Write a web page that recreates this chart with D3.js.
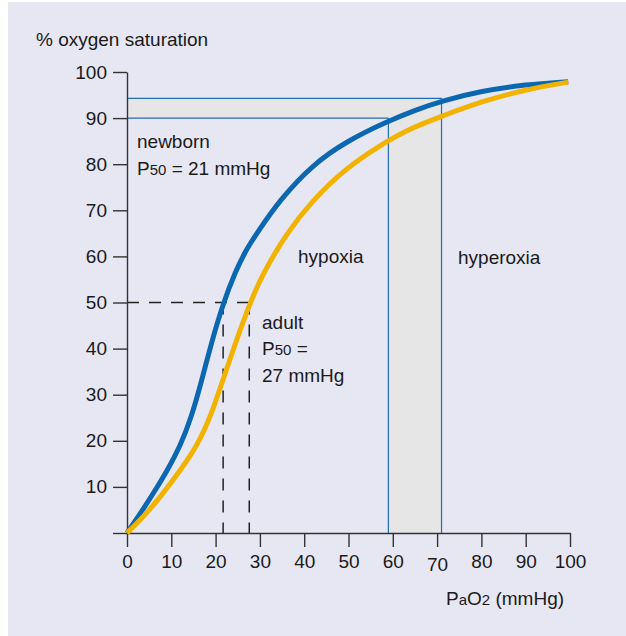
<!DOCTYPE html>
<html>
<head>
<meta charset="utf-8">
<script src="https://cdn.jsdelivr.net/npm/d3@7"></script>
<style>
  html, body { margin: 0; padding: 0; background: #ffffff; }
  svg { display: block; }
  text { font-family: "Liberation Sans", Arial, Helvetica, sans-serif; fill: #1a1a1a; }
</style>
</head>
<body>
<svg id="chart" width="626" height="636"></svg>
<script>
// ---- data ----
const newbornCurve = [
  [0,0],[3,4.2],[6,8.7],[9,13.4],[12,18.8],[14.5,25],[16.8,32.8],[19.2,41.8],[21.7,49.8],
  [24.5,56.8],[27,61.6],[29.3,65],[34.5,72.3],[42,80],[49.6,85],[58.6,89.2],[65,91.7],[71,93.7],
  [80,95.9],[90,97.3],[99.6,97.9]
];
const adultCurve = [
  [0,0],[4,3.8],[8,8.4],[12,13.5],[16,19.2],[19,25.6],[21.5,32.8],[24.4,41],[27.6,49.5],
  [30.5,56],[36,65],[41.7,72],[49.6,79.3],[57,84],[63,87.4],[71,90.4],[80,93.6],
  [90,96.2],[99.6,97.8]
];
const xTicks = [0,10,20,30,40,50,60,70,80,90,100];
const yTicks = [0,10,20,30,40,50,60,70,80,90,100];
const satBand = [90, 94.3];      // % saturation band
const pao2Band = [59, 71];       // mmHg band
const p50Newborn = 21.7;
const p50Adult = 27.6;
const p50Sat = 50;

// ---- setup ----
const svg = d3.select("#chart");
const x = d3.scaleLinear().domain([0,100]).range([127,570]);
const y = d3.scaleLinear().domain([0,100]).range([533,72]);

svg.append("rect").attr("x",8).attr("y",2).attr("width",618).attr("height",634).attr("fill","#e7e7f3");

const bandFill = "#e6e6e6";
const bandStroke = "#1f6db5";

svg.append("rect")
  .attr("x", x(0)).attr("y", y(satBand[1]))
  .attr("width", x(pao2Band[1]) - x(0)).attr("height", y(satBand[0]) - y(satBand[1]))
  .attr("fill", bandFill);
svg.append("rect")
  .attr("x", x(pao2Band[0])).attr("y", y(satBand[0]))
  .attr("width", x(pao2Band[1]) - x(pao2Band[0])).attr("height", y(0) - y(satBand[0]))
  .attr("fill", bandFill);

const outline = [
  [[0, satBand[1]], [pao2Band[1], satBand[1]]],
  [[0, satBand[0]], [pao2Band[0], satBand[0]]],
  [[pao2Band[0], satBand[0]], [pao2Band[0], 0]],
  [[pao2Band[1], satBand[1]], [pao2Band[1], 0]]
];
svg.selectAll("line.band").data(outline).enter().append("line")
  .attr("class","band")
  .attr("x1", d => x(d[0][0])).attr("y1", d => y(d[0][1]))
  .attr("x2", d => x(d[1][0])).attr("y2", d => y(d[1][1]))
  .attr("stroke", bandStroke).attr("stroke-width", 1.2);

const dashes = [
  [[0, p50Sat], [p50Adult, p50Sat]],
  [[p50Newborn, p50Sat], [p50Newborn, 0]],
  [[p50Adult, p50Sat], [p50Adult, 0]]
];
svg.selectAll("line.dash").data(dashes).enter().append("line")
  .attr("class","dash")
  .attr("x1", d => x(d[0][0])).attr("y1", d => y(d[0][1]))
  .attr("x2", d => x(d[1][0])).attr("y2", d => y(d[1][1]))
  .attr("stroke", "#222").attr("stroke-width", 1.5)
  .attr("stroke-dasharray", "12,10");

// axes
const axisColor = "#333";
const yAxis = svg.append("g").attr("transform", `translate(${x(0)},0)`)
  .call(d3.axisLeft(y).tickValues(yTicks).tickSize(14).tickPadding(6)
        .tickFormat(d => d === 0 ? "" : d).tickSizeOuter(0));
const xAxis = svg.append("g").attr("transform", `translate(0,${y(0)})`)
  .call(d3.axisBottom(x).tickValues(xTicks).tickSize(14).tickPadding(8).tickSizeOuter(0));
[yAxis, xAxis].forEach(g => {
  g.selectAll("path, line").attr("stroke", axisColor).attr("stroke-width", 1.4);
  g.selectAll("text").attr("font-size", 19).attr("fill", "#1a1a1a")
    .attr("font-family", '"Liberation Sans", Arial, sans-serif');
});
xAxis.selectAll("text").filter(d => d === 70).attr("dy", "0.86em");

// curves
const line = d3.line().x(d => x(d[0])).y(d => y(d[1])).curve(d3.curveBasis);
svg.append("path").datum(newbornCurve).attr("d", line)
  .attr("fill","none").attr("stroke","#0b67b0").attr("stroke-width",5);
svg.append("path").datum(adultCurve).attr("d", line)
  .attr("fill","none").attr("stroke","#f2b300").attr("stroke-width",5);

// labels
const fs = 19;
function addText(tx, ty, parts) {
  const t = svg.append("text").attr("x", tx).attr("y", ty).attr("font-size", fs);
  parts.forEach(p => {
    t.append("tspan").text(p[0]).attr("font-size", p[1] ? 15 : fs);
  });
  return t;
}
addText(36, 46, [["% oxygen saturation"]]);
addText(137, 148, [["newborn"]]);
addText(137, 175, [["P"], ["50", true], [" = 21 mmHg"]]);
addText(262, 329, [["adult"]]);
addText(262, 355, [["P"], ["50", true], [" ="]]);
addText(262, 382, [["27 mmHg"]]);
addText(298, 263, [["hypoxia"]]);
addText(458, 264, [["hyperoxia"]]);
addText(446, 605, [["P"], ["a", true], ["O"], ["2", true], [" (mmHg)"]]);
</script>
</body>
</html>
